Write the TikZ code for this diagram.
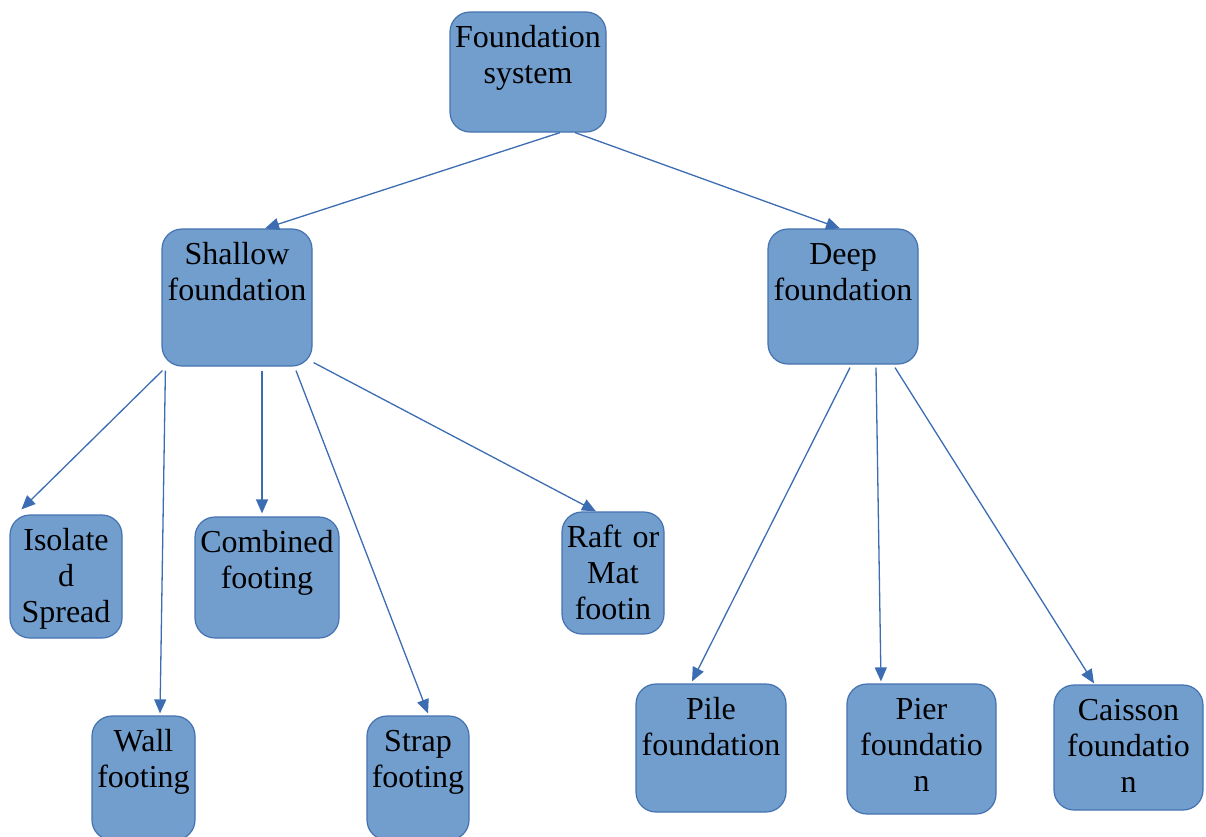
\documentclass[tikz,border=0pt]{standalone}
\usepackage{fontspec}
\setmainfont{Liberation Serif}
\usetikzlibrary{arrows.meta}
\usetikzlibrary{positioning}
\definecolor{boxfill}{RGB}{114,158,206}
\definecolor{boxline}{RGB}{68,114,176}
\definecolor{arrowblue}{RGB}{60,108,178}

\begin{document}
\begin{tikzpicture}[x=1pt,y=-1pt]
	\useasboundingbox (0,0) rectangle (1206,836);
	\begin{scope}[every node/.style={draw=boxline, fill=boxfill, line width=1.2pt,
	              rounded corners=20pt, align=center, inner sep=0pt, text height=35pt,
	              font=\fontsize{32}{36}\selectfont}]
		\node[text width=156pt, text depth=85pt] (fs) at (528,72) {Foundation\\system};
		\node[text width=150pt, text depth=102pt] (sf) at (237,297.5) {Shallow\\foundation};
		\node[text width=150pt, text depth=100pt] (df) at (843,296.5) {Deep\\foundation};
		\node[text width=112pt, text depth=88pt] (isp) at (66,576.5) {Isolate\\d\\Spread};
		\node[text width=144pt, text depth=86pt] (cf) at (267,577.5) {Combined\\footing};
		\node[text width=103pt, text depth=89pt] (wf) at (143.5,778) {Wall\\footing};
		\node[text width=102pt, text depth=89pt] (stf) at (418,778) {Strap\\footing};
		\node[text width=102pt, text depth=87pt] (rm) at (613,573) {Raft or\\Mat\\footin};
		\node[text width=150pt, text depth=93pt] (pf) at (711,748) {Pile\\foundation};
		\node[text width=149pt, text depth=95pt] (pif) at (921.5,749) {Pier\\foundatio\\n};
		\node[text width=149pt, text depth=90pt] (cs) at (1128.5,747.5) {Caisson\\foundatio\\n};
	\end{scope}

	\begin{scope}[>={Triangle[length=14pt,width=12pt]},
	              every edge/.style={draw=arrowblue, line width=1.3pt, ->}]
		\path ([xshift=32pt]fs.south) edge ([xshift=28pt]sf.north);
		\path ([xshift=47pt]fs.south) edge ([xshift=-3pt]df.north);
		\path ([xshift=1pt,yshift=-4pt]sf.south west) edge ([xshift=12pt,yshift=5pt]isp.north west);
		\path ([xshift=4pt,yshift=-4pt]sf.south west) edge ([xshift=16.5pt,yshift=2pt]wf.north);
		\path ([xshift=25pt,yshift=-4pt]sf.south) edge ([xshift=-5pt,yshift=3pt]cf.north);
		\path ([xshift=59pt,yshift=-4pt]sf.south) edge ([xshift=10pt,yshift=2pt]stf.north);
		\path ([xshift=1pt,yshift=4pt]sf.south east) edge ([xshift=-17pt]rm.north);
		\path ([xshift=7pt,yshift=-3pt]df.south) edge ([xshift=-19pt,yshift=2pt]pf.north);
		\path ([xshift=33pt,yshift=-3pt]df.south) edge ([xshift=-40.5pt,yshift=2pt]pif.north);
		\path ([xshift=52pt,yshift=-3pt]df.south) edge ([xshift=-34.5pt,yshift=1pt]cs.north);
	\end{scope}
\end{tikzpicture}
\end{document}
